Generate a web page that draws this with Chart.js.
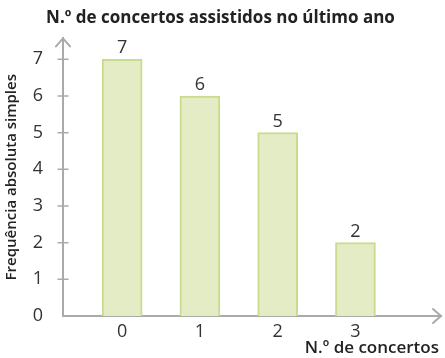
<!DOCTYPE html>
<html>
<head>
<meta charset="utf-8">
<script src="https://cdn.jsdelivr.net/npm/chart.js@4/dist/chart.umd.min.js"></script>
<style>
  html, body { margin: 0; padding: 0; background: #fff; }
  #wrap { width: 445px; height: 358px; }
</style>
</head>
<body>
<div id="wrap"><canvas id="chart"></canvas></div>
<script>
// Concerts attended last year: frequency table
const concerts = [0, 1, 2, 3];
const frequencies = [7, 6, 5, 2];
const yTicks = [0, 1, 2, 3, 4, 5, 6, 7];

const axisColor = '#aaaaaa';
const textColor = '#333333';
const fontFamily = '"Open Sans", sans-serif';

// Axis arrows, crossing tick marks and value labels
const decorations = {
    id: 'decorations',
    afterDraw(chart) {
        const ctx = chart.ctx;
        const x = chart.scales.x;
        const y = chart.scales.y;
        const x0 = x.left;
        const y0 = y.bottom;

        ctx.save();
        ctx.strokeStyle = axisColor;
        ctx.lineWidth = 2;
        ctx.lineCap = 'round';

        // arrow heads
        ctx.beginPath();
        ctx.moveTo(x0 - 7, y.top + 8);
        ctx.lineTo(x0, y.top);
        ctx.lineTo(x0 + 7, y.top + 8);
        ctx.moveTo(x.right - 8, y0 - 7);
        ctx.lineTo(x.right, y0);
        ctx.lineTo(x.right - 8, y0 + 7);
        ctx.stroke();

        // tick marks across the y axis
        ctx.lineWidth = 1.5;
        yTicks.forEach(v => {
            if (v === 0) return;
            const py = y.getPixelForValue(v);
            ctx.beginPath();
            ctx.moveTo(x0 - 5, py);
            ctx.lineTo(x0 + 5, py);
            ctx.stroke();
        });

        // values above bars
        ctx.fillStyle = textColor;
        ctx.font = '18px ' + fontFamily;
        ctx.textAlign = 'center';
        ctx.textBaseline = 'bottom';
        chart.getDatasetMeta(0).data.forEach((bar, i) => {
            ctx.fillText(String(frequencies[i]), bar.x, bar.y - 2);
        });

        // x axis title, right aligned below the axis
        ctx.fillStyle = '#222222';
        ctx.font = '600 17px ' + fontFamily;
        ctx.textAlign = 'right';
        ctx.textBaseline = 'middle';
        ctx.fillText('N.º de concertos', 439, 348);
        ctx.restore();
    }
};

new Chart(document.getElementById('chart'), {
    type: 'bar',
    data: {
        datasets: [{
            data: concerts.map((c, i) => ({ x: c, y: frequencies[i] })),
            backgroundColor: '#e4ecc6',
            borderColor: '#c9dc8e',
            borderWidth: 2,
            barThickness: 40
        }]
    },
    options: {
        responsive: true,
        maintainAspectRatio: false,
        animation: false,
        layout: { padding: { left: 0, right: 4, top: 0, bottom: 0 } },
        plugins: {
            legend: { display: false },
            tooltip: { enabled: false },
            title: {
                display: true,
                text: 'N.º de concertos assistidos no último ano',
                color: '#222222',
                font: { family: fontFamily, size: 17, weight: 'bold', lineHeight: 1.2 },
                padding: { top: 8, bottom: 10 }
            }
        },
        scales: {
            x: {
                type: 'linear',
                offset: false,
                min: -0.76,
                max: 4.1,
                afterFit: scale => { scale.height = 42; },
                afterBuildTicks: scale => {
                    scale.ticks = concerts.map(v => ({ value: v }));
                },
                grid: { display: false },
                border: { color: axisColor, width: 2 },
                ticks: {
                    color: textColor,
                    font: { family: fontFamily, size: 18 },
                    padding: -3
                }
            },
            y: {
                min: 0,
                max: 7.57,
                afterFit: scale => { scale.width = 63; },
                afterBuildTicks: scale => {
                    scale.ticks = yTicks.map(v => ({ value: v }));
                },
                grid: { display: false },
                border: { color: axisColor, width: 2 },
                ticks: {
                    color: textColor,
                    font: { family: fontFamily, size: 18 },
                    padding: 12
                },
                title: {
                    display: true,
                    text: 'Frequência absoluta simples',
                    color: '#222222',
                    font: { family: fontFamily, size: 15, weight: '600' },
                    padding: { top: 3, bottom: 0 }
                }
            }
        }
    },
    plugins: [decorations]
});
</script>
</body>
</html>
